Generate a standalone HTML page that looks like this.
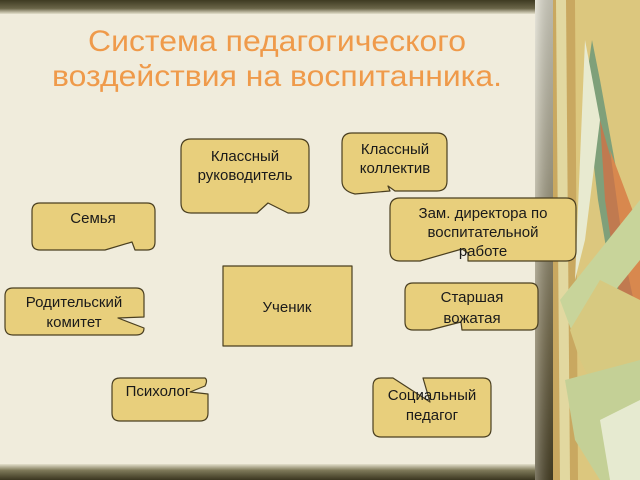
<!DOCTYPE html>
<html><head><meta charset="utf-8"><style>
html,body{margin:0;padding:0;width:640px;height:480px;overflow:hidden;background:#f0ecdc}
svg{display:block}
text{font-family:"Liberation Sans",sans-serif}
</style></head><body>
<svg width="640" height="480" viewBox="0 0 640 480" xmlns="http://www.w3.org/2000/svg">
<defs>
<linearGradient id="top" x1="0" y1="0" x2="0" y2="1"><stop offset="0" stop-color="#3e3a22"/><stop offset="0.6" stop-color="#6a6548"/><stop offset="1" stop-color="#e4e0cc"/></linearGradient>
<linearGradient id="bot" x1="0" y1="0" x2="0" y2="1"><stop offset="0" stop-color="#e4e0cc"/><stop offset="0.4" stop-color="#7d7858"/><stop offset="1" stop-color="#3a3620"/></linearGradient>
<linearGradient id="vbar" x1="0" y1="0" x2="0" y2="1"><stop offset="0" stop-color="#dcdacb"/><stop offset="0.35" stop-color="#b0ab94"/><stop offset="0.7" stop-color="#7a7050"/><stop offset="1" stop-color="#4a4226"/></linearGradient>
<linearGradient id="vbarh" x1="0" y1="0" x2="1" y2="0"><stop offset="0" stop-color="#fff" stop-opacity="0.3"/><stop offset="1" stop-color="#000" stop-opacity="0.15"/></linearGradient>
</defs>
<rect x="0" y="0" width="640" height="480" fill="#f0ecdc"/>
<rect x="0" y="0" width="540" height="14" fill="url(#top)"/>
<rect x="0" y="464" width="540" height="16" fill="url(#bot)"/>
<rect x="535" y="0" width="18" height="480" fill="url(#vbar)"/>
<rect x="535" y="0" width="18" height="480" fill="url(#vbarh)"/>
<rect x="553" y="0" width="87" height="480" fill="#dcc77e"/>
<polygon points="553,0 575,0 578,480 553,480" fill="#c9a860"/>
<polygon points="556,0 566,0 570,480 560,480" fill="#e2d8a0"/>
<polygon points="592,40 600,80 640,300 640,420 620,330 598,200 585,90" fill="#7fa07a"/>
<polygon points="600,120 640,260 640,380 620,300 605,200" fill="#c07a50"/>
<polygon points="610,150 640,230 640,330 625,260" fill="#d8884e"/>
<polygon points="585,40 600,120 585,240 575,280 580,160" fill="#e8ead0"/>
<polygon points="560,300 640,200 640,260 575,340" fill="#c8d49a"/>
<polygon points="570,330 600,280 640,300 640,380 600,400 580,360" fill="#d7c980"/>
<polygon points="565,380 640,360 640,480 600,480 575,440" fill="#c4d096"/>
<polygon points="600,420 640,400 640,480 610,480" fill="#e6ead0"/>
<text x="88" y="51" font-size="30" fill="#ef9a4a" textLength="378" lengthAdjust="spacingAndGlyphs">Система педагогического</text>
<text x="52" y="86" font-size="30" fill="#ef9a4a" textLength="450" lengthAdjust="spacingAndGlyphs">воздействия на воспитанника.</text>
<g fill="#e8cf7c" stroke="#4a3f20" stroke-width="1.2" stroke-linejoin="round">
<path d="M191,139 H299 Q309,139 309,149 V203 Q309,213 299,213 H288 L268,203 L257,213 H191 Q181,213 181,203 V149 Q181,139 191,139 Z"/>
<path d="M352,133 H437 Q447,133 447,143 V181 Q447,191 437,191 H395 L388,186 L390,191 L355,194 Q342,191 342,181 V143 Q342,133 352,133 Z"/>
<path d="M400,198 H566 Q576,198 576,208 V251 Q576,261 566,261 H468 L468,253 L462,249 L420,261 H400 Q390,261 390,251 V208 Q390,198 400,198 Z"/>
<path d="M40,203 H147 Q155,203 155,211 V242 Q155,250 147,250 H135 L132,242 L105,250 H40 Q32,250 32,242 V211 Q32,203 40,203 Z"/>
<path d="M13,288 H136 Q144,288 144,296 V317 L118,318 L144,328 Q144,335 136,335 H13 Q5,335 5,327 V296 Q5,288 13,288 Z"/>
<path d="M120,378 H205 Q208,380 205,386 L190,392 L208,394 V413 Q208,421 200,421 H120 Q112,421 112,413 V386 Q112,378 120,378 Z"/>
<rect x="223" y="266" width="129" height="80"/>
<path d="M413,283 H530 Q538,283 538,291 V322 Q538,330 530,330 H462 L461,322 L430,330 H413 Q405,330 405,322 V291 Q405,283 413,283 Z"/>
<path d="M381,378 H393 L430,402 L423,378 H483 Q491,378 491,386 V429 Q491,437 483,437 H381 Q373,437 373,429 V386 Q373,378 381,378 Z"/>
</g>
<g font-size="15" fill="#1a1a1a" text-anchor="middle">
<text x="245" y="161">Классный</text><text x="245" y="180">руководитель</text>
<text x="395" y="154">Классный</text><text x="395" y="173">коллектив</text>
<text x="483" y="218">Зам. директора по</text><text x="483" y="237">воспитательной</text><text x="483" y="256">работе</text>
<text x="93" y="223">Семья</text>
<text x="74" y="307">Родительский</text><text x="74" y="327">комитет</text>
<text x="158" y="396">Психолог</text>
<text x="287" y="312">Ученик</text>
<text x="472" y="302">Старшая</text><text x="472" y="323">вожатая</text>
<text x="432" y="400">Социальный</text><text x="432" y="420">педагог</text>
</g>
</svg>
</body></html>
